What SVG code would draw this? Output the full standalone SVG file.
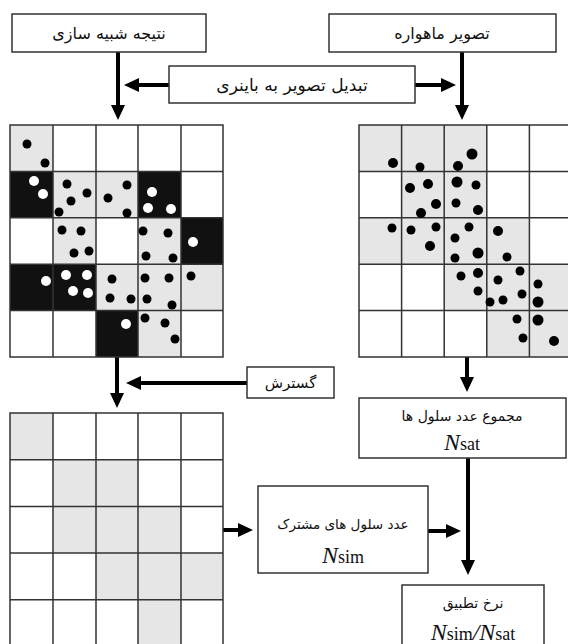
<svg xmlns="http://www.w3.org/2000/svg" width="568" height="644" viewBox="0 0 568 644">
<style>
.box{fill:#fff;stroke:#333;stroke-width:1.5}
.fa{font-family:"DejaVu Sans","Noto Sans",sans-serif;font-size:15px;fill:#111;text-anchor:middle}
.math{font-family:"Liberation Serif",serif;font-size:24px;fill:#111;text-anchor:middle}
.g{fill:#e6e6e6}
.k{fill:#111}
.cell{fill:none;stroke:#333;stroke-width:1.5}
.arr{stroke:#000;stroke-width:4;fill:none;marker-end:url(#ah)}
.ln{stroke:#000;stroke-width:4;fill:none}
.bd{fill:#000}
.wd{fill:#fff}
</style>
<defs>
<marker id="ah" markerUnits="userSpaceOnUse" markerWidth="16" markerHeight="14" refX="6" refY="7" orient="auto">
<path d="M0,0 L15,7 L0,14 z" fill="#000"/>
</marker>
</defs>
<rect width="568" height="644" fill="#fff"/>

<g id="connectors">
<line class="ln" x1="118" y1="52" x2="118" y2="112"/>
<line class="arr" x1="118" y1="100" x2="118" y2="111"/>
<line class="ln" x1="462" y1="52" x2="462" y2="112"/>
<line class="arr" x1="462" y1="100" x2="462" y2="111"/>
<line class="arr" x1="169" y1="85" x2="133" y2="85"/>
<line class="arr" x1="415" y1="85" x2="447" y2="85"/>
<line class="arr" x1="117" y1="357" x2="117" y2="399"/>
<line class="arr" x1="247" y1="383" x2="135" y2="383"/>
<line class="arr" x1="467" y1="357" x2="467" y2="383"/>
<line class="arr" x1="468" y1="458" x2="468" y2="566"/>
<line class="arr" x1="223" y1="530" x2="244" y2="530"/>
<line class="arr" x1="428" y1="531" x2="452" y2="531"/>
</g>

<g id="node-sim">
<rect class="box" x="12" y="14" width="194" height="38"/>
<text class="fa" x="109" y="39" style="font-size:16px">نتیجه شبیه سازی</text>
</g>
<g id="node-sat">
<rect class="box" x="329" y="14" width="227" height="38"/>
<text class="fa" x="442" y="39" style="font-size:16px">تصویر ماهواره</text>
</g>
<g id="node-binary">
<rect class="box" x="169" y="66" width="246" height="37"/>
<text class="fa" x="292" y="91" style="font-size:17px">تبدیل تصویر به باینری</text>
</g>

<g id="grid-sim">
<rect class="g" x="10" y="125" width="43" height="46.4"/>
<rect class="k" x="10" y="171.4" width="43" height="46.4"/>
<rect class="g" x="53" y="171.4" width="43" height="46.4"/>
<rect class="g" x="96" y="171.4" width="42" height="46.4"/>
<rect class="k" x="138" y="171.4" width="43" height="46.4"/>
<rect class="g" x="53" y="217.8" width="43" height="46.4"/>
<rect class="g" x="138" y="217.8" width="43" height="46.4"/>
<rect class="k" x="181" y="217.8" width="42" height="46.4"/>
<rect class="k" x="10" y="264.2" width="43" height="46.4"/>
<rect class="k" x="53" y="264.2" width="43" height="46.4"/>
<rect class="g" x="96" y="264.2" width="42" height="46.4"/>
<rect class="g" x="138" y="264.2" width="43" height="46.4"/>
<rect class="g" x="181" y="264.2" width="42" height="46.4"/>
<rect class="k" x="96" y="310.6" width="42" height="46.4"/>
<rect class="g" x="138" y="310.6" width="43" height="46.4"/>
<path class="cell" d="M10,125H223V357H10Z M53,125V357 M96,125V357 M138,125V357 M181,125V357 M10,171.4H223 M10,217.8H223 M10,264.2H223 M10,310.6H223"/>
<g class="bd">
<circle cx="27" cy="144" r="4.5"/><circle cx="45" cy="163" r="4.5"/>
<circle cx="67" cy="184" r="4.5"/><circle cx="87" cy="193" r="4.5"/><circle cx="71" cy="201" r="4.5"/><circle cx="59" cy="212" r="4.5"/>
<circle cx="127" cy="185" r="4.5"/><circle cx="108" cy="198" r="4.5"/><circle cx="127" cy="213" r="4.5"/>
<circle cx="62" cy="230" r="4.5"/><circle cx="81" cy="231" r="4.5"/><circle cx="74" cy="253" r="4.5"/><circle cx="89" cy="251" r="4.5"/>
<circle cx="143" cy="231" r="4.5"/><circle cx="168" cy="233" r="4.5"/><circle cx="146" cy="256" r="4.5"/><circle cx="173" cy="258" r="4.5"/>
<circle cx="112" cy="279" r="4.5"/><circle cx="110" cy="298" r="4.5"/><circle cx="131" cy="299" r="4.5"/>
<circle cx="145" cy="278" r="4.5"/><circle cx="169" cy="278" r="4.5"/><circle cx="147" cy="299" r="4.5"/><circle cx="172" cy="305" r="4.5"/>
<circle cx="191" cy="276" r="4.5"/>
<circle cx="145" cy="318" r="4.5"/><circle cx="165" cy="323" r="4.5"/><circle cx="175" cy="339" r="4.5"/>
</g>
<g class="wd">
<circle cx="34" cy="181" r="5"/><circle cx="43" cy="194" r="5"/>
<circle cx="152" cy="192" r="5"/><circle cx="148" cy="208" r="5"/><circle cx="171" cy="209" r="5"/>
<circle cx="193" cy="242" r="5"/>
<circle cx="46" cy="281" r="5"/>
<circle cx="66" cy="275" r="5"/><circle cx="87" cy="275" r="5"/><circle cx="73" cy="291" r="5"/><circle cx="88" cy="293" r="5"/>
<circle cx="126" cy="324" r="5"/>
</g>
</g>

<g id="grid-sat">
<rect class="g" x="359" y="125" width="127.8" height="46.4"/>
<rect class="g" x="401.6" y="171.4" width="85.2" height="46.4"/>
<rect class="g" x="359" y="217.8" width="170.4" height="46.4"/>
<rect class="g" x="444.2" y="264.2" width="127.8" height="46.4"/>
<rect class="g" x="486.8" y="310.6" width="85.2" height="46.4"/>
<path class="cell" d="M359,125H572V357H359Z M401.6,125V357 M444.2,125V357 M486.8,125V357 M529.4,125V357 M359,171.4H572 M359,217.8H572 M359,264.2H572 M359,310.6H572"/>
<g class="bd">
<circle cx="393" cy="163" r="5"/><circle cx="420" cy="167" r="4.5"/><circle cx="458" cy="166" r="5"/><circle cx="472" cy="154" r="5.5"/>
<circle cx="410" cy="188" r="5"/><circle cx="428" cy="184" r="5"/><circle cx="457" cy="182" r="5.5"/><circle cx="476" cy="185" r="4.5"/>
<circle cx="436" cy="204" r="5"/><circle cx="421" cy="213" r="5"/><circle cx="456" cy="203" r="4.5"/><circle cx="478" cy="210" r="5"/>
<circle cx="392" cy="228" r="4.5"/><circle cx="411" cy="230" r="4.5"/><circle cx="436" cy="227" r="4.5"/><circle cx="430" cy="246" r="5"/>
<circle cx="469" cy="227" r="4.5"/><circle cx="455" cy="238" r="4.5"/><circle cx="498" cy="231" r="5"/><circle cx="478" cy="253" r="5.5"/>
<circle cx="455" cy="258" r="4.5"/><circle cx="507" cy="257" r="4.5"/>
<circle cx="461" cy="276" r="4.5"/><circle cx="478" cy="273" r="5"/><circle cx="498" cy="280" r="4.5"/><circle cx="520" cy="271" r="4.5"/>
<circle cx="538" cy="284" r="4.5"/><circle cx="478" cy="291" r="4.5"/><circle cx="490" cy="302" r="4.5"/><circle cx="503" cy="300" r="4.5"/>
<circle cx="522" cy="294" r="4.5"/><circle cx="538" cy="302" r="5.5"/>
<circle cx="517" cy="319" r="4.5"/><circle cx="538" cy="320" r="5.5"/><circle cx="523" cy="338" r="4.5"/><circle cx="554" cy="341" r="5"/>
</g>
</g>

<g id="node-expand">
<rect class="box" x="247" y="367" width="87" height="31"/>
<text class="fa" x="290.5" y="388">گسترش</text>
</g>

<g id="grid-expanded">
<rect class="g" x="10" y="413" width="43" height="46.7"/>
<rect class="g" x="53" y="459.7" width="85" height="46.7"/>
<rect class="g" x="53" y="506.4" width="128" height="46.7"/>
<rect class="g" x="96" y="553.1" width="127" height="46.7"/>
<rect class="g" x="138" y="599.8" width="43" height="46.7"/>
<path class="cell" d="M10,413H223V647H10Z M53,413V647 M96,413V647 M138,413V647 M181,413V647 M10,459.7H223 M10,506.4H223 M10,553.1H223 M10,599.8H223"/>
</g>

<g id="node-nsat">
<rect class="box" x="359" y="398" width="207" height="60"/>
<text class="fa" x="462" y="421" style="font-size:14px">مجموع عدد سلول ها</text>
<text class="math" x="462" y="450"><tspan font-style="italic">N</tspan><tspan font-size="18">sat</tspan></text>
</g>

<g id="node-nsim">
<rect class="box" x="258" y="486" width="170" height="87"/>
<text class="fa" x="343" y="529" style="font-size:13.5px">عدد سلول های مشترک</text>
<text class="math" x="343" y="563"><tspan font-style="italic">N</tspan><tspan font-size="18">sim</tspan></text>
</g>

<g id="node-ratio">
<rect class="box" x="402" y="585" width="142" height="64"/>
<text class="fa" x="473" y="608" style="font-size:14px">نرخ تطبیق</text>
<text class="math" x="473" y="640"><tspan font-style="italic">N</tspan><tspan font-size="18">sim</tspan><tspan font-style="italic">/N</tspan><tspan font-size="18">sat</tspan></text>
</g>
</svg>
